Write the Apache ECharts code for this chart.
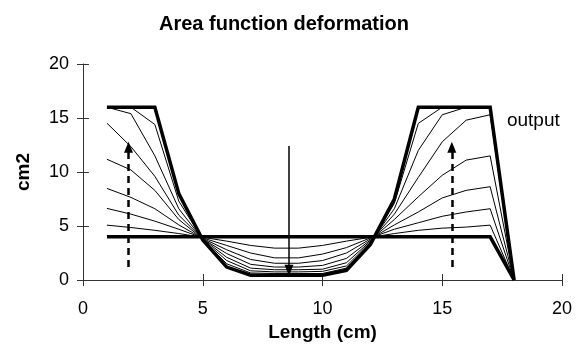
<!DOCTYPE html>
<html>
<head>
<meta charset="utf-8">
<script src="https://cdn.jsdelivr.net/npm/echarts@6/dist/echarts.min.js"></script>
<style>
  html, body { margin: 0; padding: 0; background: #fff; }
  #chart { width: 576px; height: 362px; }
</style>
</head>
<body>
<div id="chart"></div>
<script>
// Positions along the tract (cm)
var lengths = [1, 2, 3, 4, 5, 6, 7, 8, 9, 10, 11, 12, 13, 14, 15, 16, 17, 18];

// Starting area function (uniform tube)
var inputArea = [4, 4, 4, 4, 4, 4, 4, 4, 4, 4, 4, 4, 4, 4, 4, 4, 4, 0];

// Target area function
var outputArea = [16, 16, 16, 8, 3.7, 1.2, 0.45, 0.45, 0.45, 0.45, 0.9, 3.3, 7.5, 16, 16, 16, 16, 0];

// Intermediate deformation steps, from the start towards the target
var step1 = [5.08, 4.86, 4.6, 4.3, 3.95, 3.6, 3.2, 2.95, 2.95, 3.2, 3.6, 3.95, 4.3, 4.6, 4.8, 4.9, 5.08, 0];
var step2 = [6.63, 6.1, 5.45, 4.7, 3.9, 3.2, 2.5, 2.05, 2.05, 2.4, 3.0, 3.9, 4.7, 5.3, 5.9, 6.3, 6.6, 0];
var step3 = [8.48, 7.65, 6.6, 5.1, 3.85, 2.8, 1.9, 1.55, 1.55, 1.8, 2.5, 3.8, 5.1, 6.3, 7.6, 8.3, 8.64, 0];
var step4 = [11.18, 10.19, 8.3, 5.6, 3.8, 2.45, 1.45, 1.2, 1.2, 1.35, 2.0, 3.7, 5.6, 7.7, 9.7, 11.1, 11.49, 0];
var step5 = [14.52, 12.35, 9.6, 6.0, 3.8, 2.1, 1.1, 0.95, 0.95, 1.0, 1.6, 3.6, 6.1, 9.5, 12.8, 14.8, 15.3, 0];
var step6 = [16, 15.4, 11.5, 6.6, 3.75, 1.8, 0.85, 0.75, 0.75, 0.8, 1.3, 3.5, 6.6, 12, 15.3, 16, 16, 0];
var step7 = [16, 16, 14.4, 7.3, 3.75, 1.5, 0.65, 0.6, 0.6, 0.6, 1.1, 3.4, 7.1, 14.5, 16, 16, 16, 0];
var steps = [step1, step2, step3, step4, step5, step6, step7];

// Direction arrows: [x, fromY, toY]
var wideningArrows = [[1.9, 1.2, 12.3], [15.4, 1.2, 12.3]];
var narrowingArrow = [8.6, 12.4, 0.9];

// Tick values on both axes
var xTicks = [0, 5, 10, 15, 20];
var yTicks = [0, 5, 10, 15, 20];

// Label for the target curve: [x, y, text]
var outputLabel = [17.7, 14.7, 'output'];

var FONT = '"Liberation Sans", Arial, sans-serif';

function pairs(ys) {
  return lengths.map(function (x, i) { return [x, ys[i]]; });
}

function arrowSegment(a) {
  return [{ coord: [a[0], a[1]] }, { coord: [a[0], a[2]] }];
}

var series = [];
steps.forEach(function (s, i) {
  series.push({
    name: 'step' + (i + 1),
    type: 'line',
    data: pairs(s),
    symbol: 'none',
    lineStyle: { color: '#000', width: 1, join: 'miter' },
    z: 2
  });
});
series.push({
  name: 'input',
  type: 'line',
  data: pairs(inputArea),
  symbol: 'none',
  lineStyle: { color: '#000', width: 3.5, join: 'miter', cap: 'butt' },
  z: 3
});
series.push({
  name: 'output',
  type: 'line',
  data: pairs(outputArea),
  symbol: 'none',
  lineStyle: { color: '#000', width: 3.5, join: 'miter', cap: 'butt' },
  z: 3,
  markPoint: {
    silent: true,
    symbol: 'circle',
    symbolSize: 0,
    data: [{ coord: [outputLabel[0], outputLabel[1]], value: outputLabel[2] }],
    label: {
      show: true,
      position: 'right',
      distance: 0,
      formatter: '{c}',
      color: '#000',
      fontFamily: FONT,
      fontSize: 19
    }
  }
});
// Dashed arrows (widening) and solid arrow (narrowing)
series.push({
  name: 'arrows',
  type: 'line',
  data: [],
  z: 4,
  markLine: {
    silent: true,
    animation: false,
    symbol: ['none', 'triangle'],
    symbolSize: [9, 11],
    label: { show: false },
    lineStyle: { color: '#000', width: 2.5, type: [7, 5] },
    data: wideningArrows.map(arrowSegment)
  }
});
series.push({
  name: 'arrow2',
  type: 'line',
  data: [],
  z: 4,
  markLine: {
    silent: true,
    animation: false,
    symbol: ['none', 'triangle'],
    symbolSize: [9, 11],
    label: { show: false },
    lineStyle: { color: '#000', width: 1.5, type: 'solid' },
    data: [arrowSegment(narrowingArrow)]
  }
});

var axisLineStyle = { color: '#333', width: 1 };

var option = {
  animation: false,
  backgroundColor: '#fff',
  title: {
    text: 'Area function deformation',
    left: 279,
    top: 9,
    textAlign: 'center',
    textStyle: { fontFamily: FONT, fontSize: 20, fontWeight: 'bold', color: '#000' }
  },
  grid: { left: 83, right: 14, top: 64, bottom: 82, containLabel: false },
  xAxis: [{
    type: 'value',
    min: xTicks[0],
    max: xTicks[xTicks.length - 1],
    interval: xTicks[1] - xTicks[0],
    name: 'Length (cm)',
    nameLocation: 'middle',
    nameGap: 42,
    nameTextStyle: { fontFamily: FONT, fontSize: 19, fontWeight: 'bold', color: '#000' },
    axisLine: { lineStyle: axisLineStyle },
    axisTick: { show: true, length: 6, lineStyle: axisLineStyle },
    axisLabel: { fontFamily: FONT, fontSize: 18, color: '#000', margin: 20 },
    splitLine: { show: false }
  }, {
    type: 'value',
    position: 'bottom',
    min: xTicks[0],
    max: xTicks[xTicks.length - 1],
    interval: xTicks[1] - xTicks[0],
    axisLine: { show: false },
    axisTick: { show: true, inside: true, length: 6, lineStyle: axisLineStyle },
    axisLabel: { show: false },
    splitLine: { show: false }
  }],
  yAxis: [{
    type: 'value',
    min: yTicks[0],
    max: yTicks[yTicks.length - 1],
    interval: yTicks[1] - yTicks[0],
    name: 'cm2',
    nameLocation: 'middle',
    nameGap: 50,
    nameTextStyle: { fontFamily: FONT, fontSize: 19, fontWeight: 'bold', color: '#000' },
    axisLine: { show: true, lineStyle: axisLineStyle },
    axisTick: { show: true, length: 6, lineStyle: axisLineStyle },
    axisLabel: { fontFamily: FONT, fontSize: 18, color: '#000', margin: 14 },
    splitLine: { show: false }
  }, {
    type: 'value',
    position: 'left',
    min: yTicks[0],
    max: yTicks[yTicks.length - 1],
    interval: yTicks[1] - yTicks[0],
    axisLine: { show: false },
    axisTick: { show: true, inside: true, length: 6, lineStyle: axisLineStyle },
    axisLabel: { show: false },
    splitLine: { show: false }
  }],
  series: series
};

var chart = echarts.init(document.getElementById('chart'), null, { renderer: 'canvas' });
chart.setOption(option);
</script>
</body>
</html>
